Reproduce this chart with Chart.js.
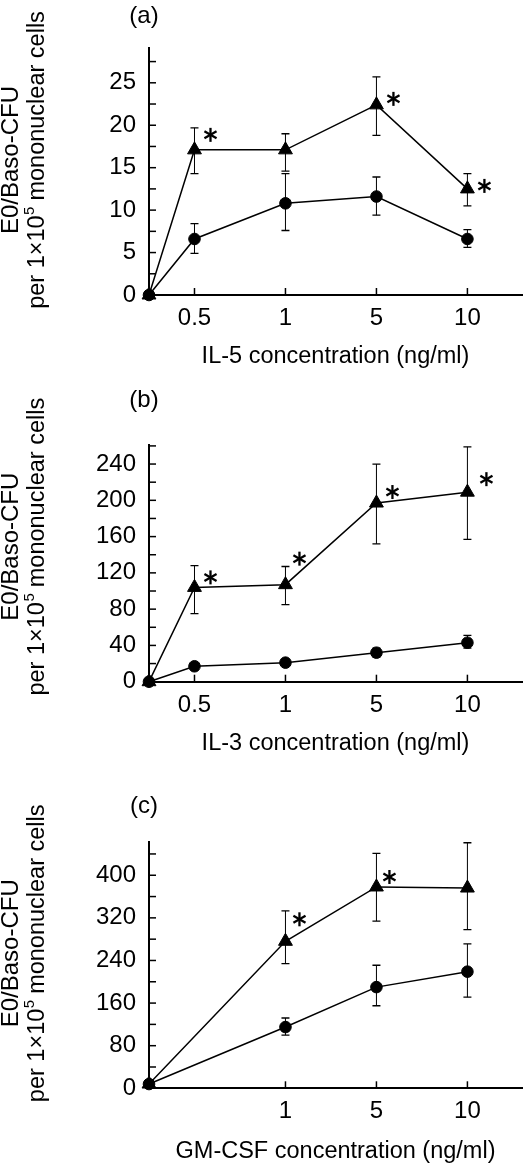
<!DOCTYPE html>
<html>
<head>
<meta charset="utf-8">
<script src="https://cdn.jsdelivr.net/npm/chart.js@4.4.1/dist/chart.umd.min.js"></script>
<style>
  body { margin: 0; background: #fff; }
  .panel { position: absolute; left: 0; width: 531px; }
</style>
</head>
<body>
<div class="panel" style="top:0px"><canvas id="chartA" width="531" height="375"></canvas></div>
<div class="panel" style="top:375px"><canvas id="chartB" width="531" height="385"></canvas></div>
<div class="panel" style="top:760px"><canvas id="chartC" width="531" height="410"></canvas></div>
<script>
// concentrations (ng/ml) and where each one sits on the broken x axis
const concAB = ['0', '0.5', '1', '5', '10'];
const concC = ['0', '1', '5', '10'];
const axisPos = { '0': 0, '0.5': 0.5, '1': 1.5, '5': 2.5, '10': 3.5 };

// (a) IL-5
const il5Tri   = [0, 17.1, 17.1, 22.4, 12.5];
const il5TriHi = [null, 19.7, 19.0, 25.7, 14.3];
const il5TriLo = [null, 14.3, 14.6, 18.8, 10.5];
const il5Sig   = [false, true, false, true, true];
const il5Dot   = [0, 6.6, 10.8, 11.6, 6.6];
const il5DotHi = [null, 8.4, 14.3, 13.9, 7.7];
const il5DotLo = [null, 4.9, 7.6, 9.4, 5.6];

// (b) IL-3
const il3Tri   = [0, 104, 107, 197, 209];
const il3TriHi = [null, 128, 127, 240, 259];
const il3TriLo = [null, 75, 85, 152, 157];
const il3Sig   = [false, true, true, true, true];
const il3Dot   = [0, 17, 21, 32, 43];
const il3DotHi = [null, null, null, 37, 51];
const il3DotLo = [null, null, null, 27, 37];

// (c) GM-CSF
const gmTri   = [8, 276, 378, 376];
const gmTriHi = [null, 333, 441, 461];
const gmTriLo = [null, 234, 314, 298];
const gmSig   = [false, true, true, false];
const gmDot   = [8, 115, 190, 219];
const gmDotHi = [null, 132, 231, 271];
const gmDotLo = [null, 100, 155, 171];

const yTitle1 = 'E0/Baso-CFU';
const yTitle2 = ['per 1\u00d710', '5', ' mononuclear cells'];

Chart.defaults.color = '#000';
Chart.defaults.font.family = '"Liberation Sans", Arial, Helvetica, sans-serif';

function pts(conc, vals) {
  return conc.map((c, i) => ({ x: axisPos[c], y: vals[i] }));
}

function drawStar(ctx, x, y, r) {
  ctx.save();
  ctx.strokeStyle = '#000';
  ctx.lineWidth = 2.3;
  for (let k = 0; k < 3; k++) {
    const a = Math.PI / 2 + k * Math.PI / 3;
    ctx.beginPath();
    ctx.moveTo(x - Math.cos(a) * r, y - Math.sin(a) * r);
    ctx.lineTo(x + Math.cos(a) * r, y + Math.sin(a) * r);
    ctx.stroke();
  }
  ctx.restore();
}

const decor = {
  id: 'decor',
  beforeDatasetsDraw(chart) {
    const ctx = chart.ctx;
    const ys = chart.scales.y;
    ctx.save();
    ctx.strokeStyle = '#000';
    chart.data.datasets.forEach((ds, di) => {
      const meta = chart.getDatasetMeta(di);
      meta.data.forEach((pt, i) => {
        const hi = ds.errHi[i], lo = ds.errLo[i];
        if (hi == null) return;
        const yh = ys.getPixelForValue(hi), yl = ys.getPixelForValue(lo);
        ctx.lineWidth = 1;
        ctx.beginPath();
        ctx.moveTo(pt.x, yh); ctx.lineTo(pt.x, yl);
        ctx.stroke();
        ctx.lineWidth = 1.3;
        ctx.beginPath();
        ctx.moveTo(pt.x - 4, yh); ctx.lineTo(pt.x + 4, yh);
        ctx.moveTo(pt.x - 4, yl); ctx.lineTo(pt.x + 4, yl);
        ctx.stroke();
      });
    });
    ctx.restore();
  },
  afterDraw(chart, args, o) {
    const ctx = chart.ctx;
    const xs = chart.scales.x, ys = chart.scales.y;
    const area = chart.chartArea;
    ctx.save();
    // inward tick marks
    ctx.strokeStyle = '#000';
    ctx.lineWidth = 1.5;
    ys.ticks.forEach(t => {
      if (t.value === 0) return;
      const y = ys.getPixelForValue(t.value);
      ctx.beginPath(); ctx.moveTo(area.left, y); ctx.lineTo(area.left + 7, y); ctx.stroke();
    });
    xs.ticks.forEach(t => {
      const x = xs.getPixelForValue(t.value);
      ctx.beginPath(); ctx.moveTo(x, area.bottom); ctx.lineTo(x, area.bottom - 7); ctx.stroke();
    });
    // significance stars
    const tri = chart.getDatasetMeta(0);
    chart.data.datasets[0].sig.forEach((s, i) => {
      if (!s) return;
      const off = o.starOffset[i];
      drawStar(ctx, tri.data[i].x + off[0], tri.data[i].y + off[1], 7);
    });
    // panel letter
    ctx.fillStyle = '#000';
    ctx.font = '24px "Liberation Sans", Arial, sans-serif';
    ctx.textAlign = 'center';
    ctx.textBaseline = 'middle';
    ctx.fillText(o.letter, 144, o.letterY);
    // two-line y title with superscript
    const yc = area.bottom - 135;
    ctx.save();
    ctx.translate(11, yc);
    ctx.rotate(-Math.PI / 2);
    ctx.fillText(yTitle1, 0, 0);
    ctx.restore();
    ctx.save();
    ctx.translate(38, yc);
    ctx.rotate(-Math.PI / 2);
    ctx.textAlign = 'left';
    const fBig = '23.5px "Liberation Sans", Arial, sans-serif';
    const fSup = '15px "Liberation Sans", Arial, sans-serif';
    ctx.font = fBig; const w1 = ctx.measureText(yTitle2[0]).width;
    ctx.font = fSup; const w2 = ctx.measureText(yTitle2[1]).width;
    ctx.font = fBig; const w3 = ctx.measureText(yTitle2[2]).width;
    let x0 = -(w1 + w2 + w3) / 2;
    ctx.fillText(yTitle2[0], x0, 0);
    ctx.font = fSup; ctx.fillText(yTitle2[1], x0 + w1 + 0.5, -8);
    ctx.font = fBig; ctx.fillText(yTitle2[2], x0 + w1 + w2, 0);
    ctx.restore();
    ctx.restore();
  }
};

function makePanel(id, cfg) {
  const canvas = document.getElementById(id);
  const H = canvas.height;
  const lineH = 23.5 * 1.2;
  const series = (label, vals, hi, lo, style, radius, sig) => ({
    label: label,
    data: pts(cfg.conc, vals),
    errHi: hi, errLo: lo, sig: sig,
    borderColor: '#000',
    backgroundColor: '#000',
    borderWidth: 1.5,
    pointStyle: style,
    pointRadius: radius,
    pointBorderWidth: 1,
    tension: 0,
    clip: false
  });
  return new Chart(canvas, {
    type: 'line',
    data: {
      datasets: [
        series('triangle', cfg.tri, cfg.triHi, cfg.triLo, 'triangle', 8, cfg.sig),
        series('circle', cfg.dot, cfg.dotHi, cfg.dotLo, 'circle', 5.8, [])
      ]
    },
    options: {
      responsive: false,
      animation: false,
      devicePixelRatio: 1,
      layout: { padding: { top: cfg.axisTop, right: 2, left: 0, bottom: 0 } },
      plugins: {
        legend: { display: false },
        tooltip: { enabled: false },
        decor: { letter: cfg.letter, letterY: cfg.letterY, starOffset: cfg.starOffset }
      },
      scales: {
        x: {
          type: 'linear',
          min: 0,
          max: 4.1,
          afterBuildTicks: s => { s.ticks = cfg.tickConc.map(c => ({ value: axisPos[c] })); },
          afterFit: s => { s.height = H - cfg.axisBottom; },
          grid: { drawOnChartArea: false, drawTicks: false },
          border: { display: true, color: '#000', width: 2 },
          ticks: {
            autoSkip: false,
            maxRotation: 0,
            padding: 9,
            font: { size: 24 },
            callback: (v, i) => cfg.tickConc[i]
          },
          title: {
            display: true,
            text: cfg.xTitle,
            font: { size: 23.5 },
            padding: { top: 0, bottom: H - cfg.titleY - lineH / 2 }
          }
        },
        y: {
          min: 0,
          max: cfg.yMax,
          afterFit: s => { s.width = 149; },
          grid: { drawOnChartArea: false, drawTicks: false },
          border: { display: true, color: '#000', width: 2 },
          ticks: {
            stepSize: cfg.step,
            includeBounds: false,
            autoSkip: false,
            padding: 13,
            font: { size: 24 },
            callback: v => (Math.abs(v / cfg.major - Math.round(v / cfg.major)) < 1e-6 ? String(v) : '')
          }
        }
      }
    },
    plugins: [decor]
  });
}

makePanel('chartA', {
  conc: concAB, tickConc: ['0.5', '1', '5', '10'],
  tri: il5Tri, triHi: il5TriHi, triLo: il5TriLo, sig: il5Sig,
  dot: il5Dot, dotHi: il5DotHi, dotLo: il5DotLo,
  yMax: 29.1, step: 2.5, major: 5,
  axisTop: 48, axisBottom: 295, titleY: 357,
  letter: '(a)', letterY: 16,
  xTitle: 'IL-5 concentration (ng/ml)',
  starOffset: [null, [16, -15], null, [17, -6], [17, -3]]
});

makePanel('chartB', {
  conc: concAB, tickConc: ['0.5', '1', '5', '10'],
  tri: il3Tri, triHi: il3TriHi, triLo: il3TriLo, sig: il3Sig,
  dot: il3Dot, dotHi: il3DotHi, dotLo: il3DotLo,
  yMax: 261, step: 20, major: 40,
  axisTop: 70, axisBottom: 306.7, titleY: 368.7,
  letter: '(b)', letterY: 25,
  xTitle: 'IL-3 concentration (ng/ml)',
  starOffset: [null, [16, -10], [14, -26], [16, -11], [19, -13]]
});

makePanel('chartC', {
  conc: concC, tickConc: ['1', '5', '10'],
  tri: gmTri, triHi: gmTriHi, triLo: gmTriLo, sig: gmSig,
  dot: gmDot, dotHi: gmDotHi, dotLo: gmDotLo,
  yMax: 463, step: 40, major: 80,
  axisTop: 81.7, axisBottom: 328.3, titleY: 391.7,
  letter: '(c)', letterY: 46.7,
  xTitle: 'GM-CSF concentration (ng/ml)',
  starOffset: [null, [14, -22], [13, -10], null]
});
</script>
</body>
</html>
